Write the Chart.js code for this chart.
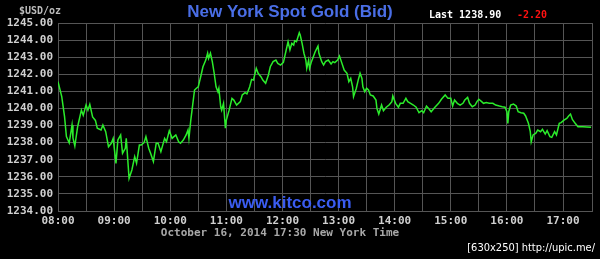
<!DOCTYPE html>
<html>
<head>
<meta charset="utf-8">
<script src="https://cdn.jsdelivr.net/npm/chart.js@4.4.1/dist/chart.umd.min.js"></script>
<style>
  body { margin: 0; background: #000; }
  #wrap { width: 600px; height: 259px; position: relative; }
</style>
</head>
<body>
<div id="wrap"><canvas id="goldChart" width="600" height="259"></canvas></div>
<script>
// minutes after 08:00 (New York time)
const minutes = [
  0, 4, 7, 9, 12, 15, 16, 18, 21, 25, 27, 30, 32, 34, 37, 40, 42, 46, 48, 51,
  54, 57, 59, 62, 64, 67, 69, 72, 73, 76, 79, 82, 84, 87, 89, 92, 94, 97, 99, 102,
  105, 107, 110, 114, 116, 119, 122, 124, 126, 129, 131, 134, 137, 139, 140, 142, 144, 146, 148, 150,
  153, 155, 158, 160, 161, 163, 165, 167, 169, 171, 172, 174, 175, 177, 179, 180, 183, 186, 188, 191,
  195, 197, 200, 202, 205, 207, 209, 212, 214, 217, 219, 222, 225, 227, 230, 233, 235, 238, 241, 242,
  244, 246, 248, 250, 252, 253, 255, 258, 259, 261, 263, 265, 266, 268, 269, 271, 273, 275, 278, 279,
  282, 284, 286, 289, 292, 294, 296, 299, 301, 303, 306, 309, 311, 313, 315, 316, 319, 321, 323, 325,
  326, 328, 330, 332, 334, 337, 340, 341, 343, 346, 348, 351, 354, 357, 358, 361, 364, 366, 369, 372,
  374, 377, 380, 383, 386, 389, 391, 394, 397, 399, 403, 407, 410, 414, 417, 420, 422, 424, 427, 430,
  433, 435, 438, 440, 443, 446, 448, 450, 453, 455, 458, 461, 465, 468, 472, 475, 478, 480, 481, 482,
  484, 487, 490, 492, 495, 498, 500, 503, 505, 506, 508, 511, 513, 516, 518, 521, 523, 526, 528, 531,
  533, 536, 538, 541, 544, 546, 548, 550, 553, 556, 561, 570
];
const prices = [
  1241.57, 1240.69, 1239.52, 1238.35, 1237.98, 1239.03, 1238.27, 1237.80, 1238.93, 1239.90,
  1239.60, 1240.20, 1239.90, 1240.24, 1239.50, 1239.30, 1238.84, 1238.74, 1239.03, 1238.64,
  1237.76, 1237.96, 1238.25, 1236.79, 1238.15, 1238.45, 1237.38, 1237.67, 1238.25, 1235.91,
  1236.40, 1237.18, 1236.79, 1237.86, 1237.86, 1238.00, 1238.35, 1237.67, 1237.38, 1236.89,
  1237.96, 1237.96, 1237.47, 1238.25, 1238.05, 1238.70, 1238.25, 1238.35, 1238.45, 1238.05,
  1237.96, 1238.15, 1238.45, 1238.74, 1238.25, 1239.32, 1240.20, 1241.08, 1241.18, 1241.27,
  1241.96, 1242.44, 1242.83, 1243.23, 1242.93, 1243.23, 1242.74, 1242.06, 1241.27, 1240.98,
  1241.18, 1240.10, 1239.90, 1240.30, 1238.84, 1239.32, 1239.90, 1240.59, 1240.49, 1240.20,
  1240.40, 1240.79, 1240.92, 1240.85, 1241.27, 1241.70, 1241.66, 1242.35, 1242.06, 1241.86,
  1241.66, 1241.47, 1241.96, 1242.44, 1242.74, 1242.83, 1242.64, 1242.54, 1242.70, 1242.93,
  1243.42, 1243.91, 1243.42, 1243.81, 1243.71, 1243.96, 1243.91, 1244.43, 1244.30, 1243.81,
  1243.23, 1242.83, 1242.35, 1242.83, 1242.35, 1242.74, 1243.03, 1243.32, 1243.65, 1243.23,
  1242.74, 1242.54, 1242.74, 1242.83, 1242.60, 1242.74, 1242.68, 1242.83, 1243.07, 1242.74,
  1242.25, 1242.06, 1241.57, 1241.76, 1241.27, 1240.69, 1241.18, 1241.66, 1242.06, 1241.76,
  1241.27, 1240.98, 1241.18, 1241.08, 1240.79, 1240.73, 1240.49, 1240.00, 1239.67, 1240.20,
  1239.87, 1240.07, 1240.20, 1240.40, 1240.73, 1240.30, 1240.07, 1240.30, 1240.30, 1240.59,
  1240.40, 1240.30, 1240.20, 1240.07, 1239.75, 1239.87, 1239.75, 1240.14, 1239.95, 1239.81,
  1240.07, 1240.30, 1240.54, 1240.79, 1240.59, 1240.59, 1240.14, 1240.49, 1240.30, 1240.20,
  1240.30, 1240.49, 1240.65, 1240.30, 1240.10, 1240.20, 1240.40, 1240.54, 1240.40, 1240.30,
  1240.34, 1240.30, 1240.30, 1240.20, 1240.14, 1240.10, 1240.07, 1239.81, 1239.13, 1239.81,
  1240.20, 1240.26, 1240.14, 1239.81, 1239.75, 1239.72, 1239.56, 1239.13, 1238.64, 1238.05,
  1238.45, 1238.55, 1238.74, 1238.64, 1238.78, 1238.50, 1238.70, 1238.35, 1238.31, 1238.64,
  1238.45, 1239.13, 1239.17, 1239.32, 1239.42, 1239.56, 1239.67, 1239.36, 1239.13, 1238.93,
  1238.93, 1238.90
];
const hourLabels = ['08:00', '09:00', '10:00', '11:00', '12:00', '13:00', '14:00', '15:00', '16:00', '17:00'];
const priceMin = 1234;
const priceMax = 1245;
const lastPrice = '1238.90';
const change = '-2.20';

const points = minutes.map((m, i) => ({ x: m, y: prices[i] }));

const mono = '"DejaVu Sans Mono", "Liberation Mono", monospace';

const decorations = {
    id: 'decorations',
    beforeDraw(chart) {
        const ctx = chart.ctx;
        ctx.save();
        ctx.fillStyle = '#000';
        ctx.fillRect(0, 0, chart.width, chart.height);
        ctx.restore();
    },
    beforeDatasetsDraw(chart) {
        const ctx = chart.ctx;
        ctx.save();
        ctx.fillStyle = '#3a5cf0';
        ctx.font = 'bold 17px "Liberation Sans", Arial, sans-serif';
        ctx.textAlign = 'center';
        ctx.textBaseline = 'middle';
        ctx.fillText('www.kitco.com', 290, 203);
        ctx.restore();
    },
    afterDraw(chart) {
        const ctx = chart.ctx;
        ctx.save();
        ctx.textBaseline = 'middle';

        ctx.fillStyle = '#4a6ee6';
        ctx.font = 'bold 17px "Liberation Sans", Arial, sans-serif';
        ctx.textAlign = 'center';
        ctx.fillText('New York Spot Gold (Bid)', 290, 12);

        ctx.textAlign = 'left';
        ctx.fillStyle = '#bbbbbb';
        ctx.font = 'bold 10px ' + mono;
        ctx.fillText('$USD/oz', 19, 11);

        ctx.fillStyle = '#ffffff';
        ctx.font = 'bold 10px ' + mono;
        ctx.fillText('Last ' + lastPrice, 429, 15);
        ctx.fillStyle = '#ff1111';
        ctx.fillText(change, 517, 15);

        ctx.fillStyle = '#a8a8a8';
        ctx.font = 'bold 11px ' + mono;
        ctx.textAlign = 'center';
        ctx.fillText('October 16, 2014 17:30 New York Time', 280, 233);

        ctx.fillStyle = '#ffffff';
        ctx.font = '11px "DejaVu Sans Condensed", "Noto Sans", sans-serif';
        ctx.textAlign = 'right';
        ctx.fillText('[630x250] http://upic.me/', 595, 248);
        ctx.restore();
    }
};

new Chart(document.getElementById('goldChart'), {
    type: 'line',
    data: {
        datasets: [{
            label: 'Gold Bid',
            data: points,
            borderColor: '#2bec2b',
            borderWidth: 1.5,
            pointRadius: 0,
            tension: 0,
            fill: false
        }]
    },
    options: {
        responsive: false,
        animation: false,
        events: [],
        layout: { padding: { top: 23, right: 8, left: 0, bottom: 0 } },
        plugins: {
            legend: { display: false },
            tooltip: { enabled: false }
        },
        scales: {
            x: {
                type: 'linear',
                min: 0,
                max: 571,
                afterFit(scale) { scale.height = 48; },
                grid: { color: '#555555', lineWidth: 1, drawTicks: false },
                border: { color: '#555555' },
                ticks: {
                    stepSize: 30,
                    autoSkip: false,
                    maxRotation: 0,
                    padding: 4,
                    color: '#d0d0d0',
                    font: { family: mono, size: 11, weight: 'bold' },
                    callback: (v) => (v % 60 === 0 ? hourLabels[v / 60] : '')
                }
            },
            y: {
                min: priceMin,
                max: priceMax,
                afterFit(scale) { scale.width = 58; },
                grid: { color: '#555555', lineWidth: 1, drawTicks: false },
                border: { color: '#555555' },
                ticks: {
                    stepSize: 1,
                    padding: 5,
                    color: '#d0d0d0',
                    font: { family: mono, size: 11, weight: 'bold' },
                    callback: (v) => v.toFixed(2)
                }
            }
        }
    },
    plugins: [decorations]
});
</script>
</body>
</html>
